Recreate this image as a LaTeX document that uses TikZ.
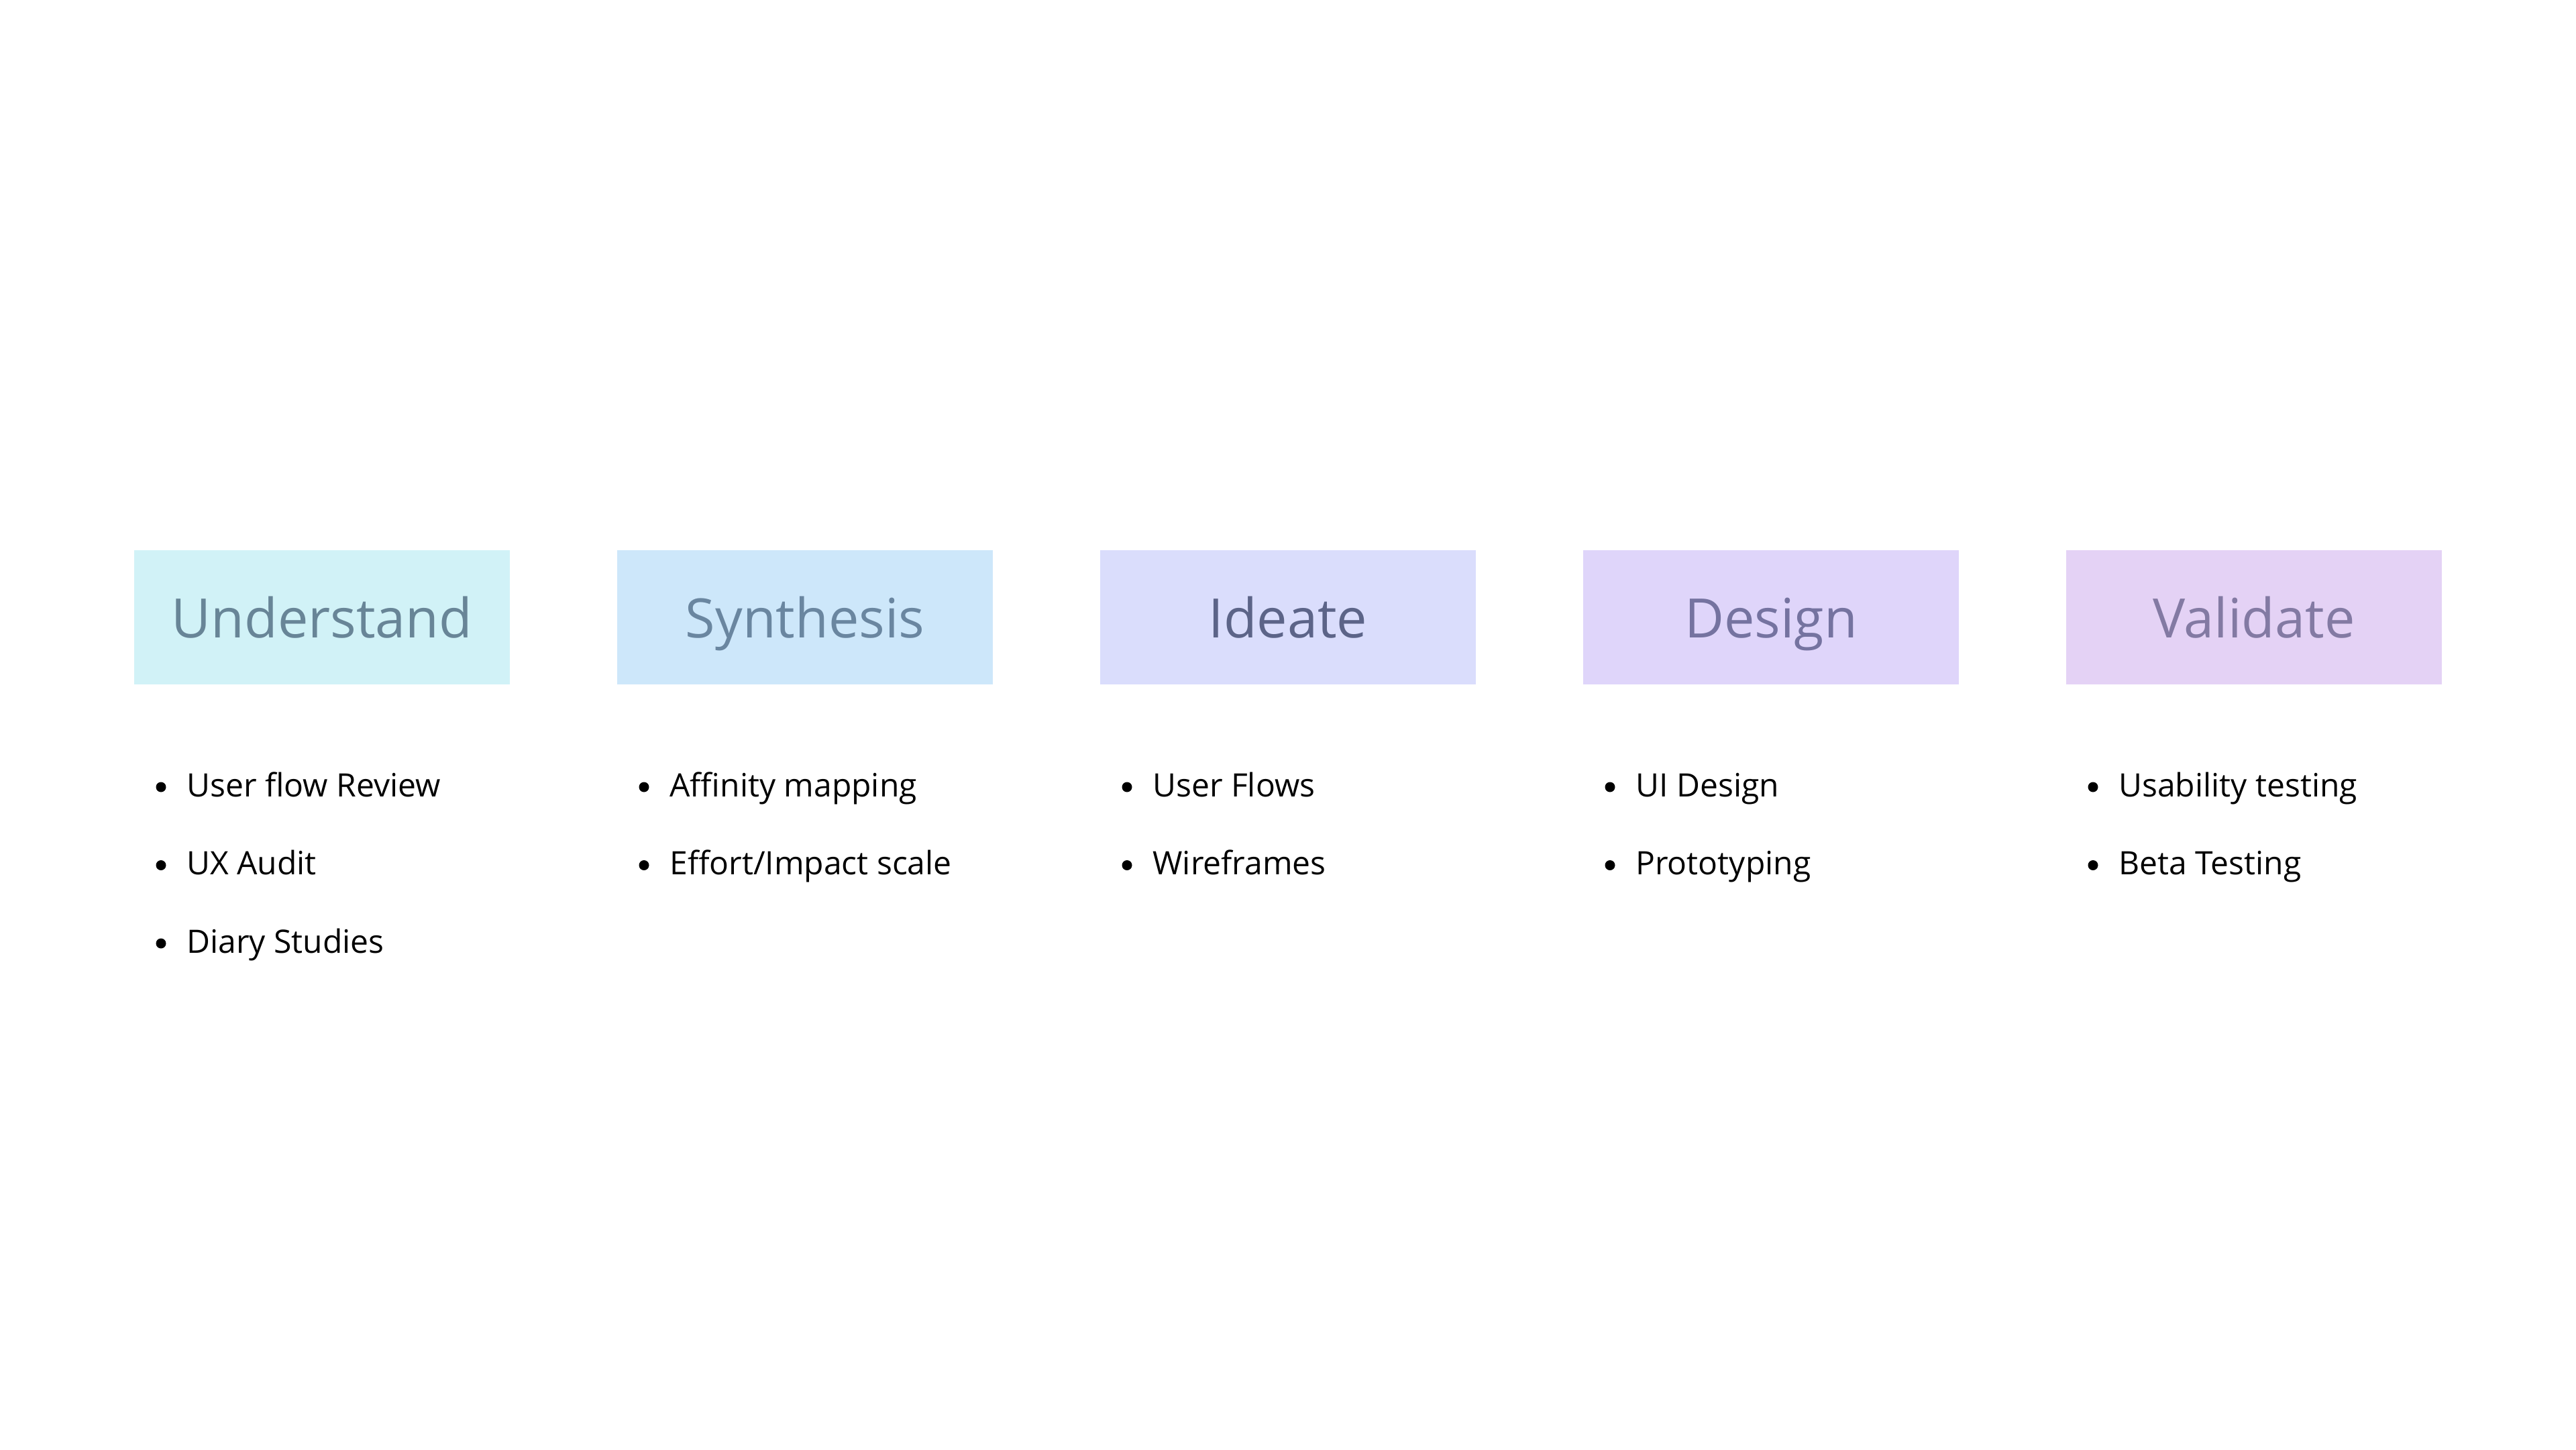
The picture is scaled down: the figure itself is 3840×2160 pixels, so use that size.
\documentclass[tikz,border=0pt]{standalone}
\usepackage{fontspec}
\setmainfont{Open Sans}
\definecolor{fillA}{HTML}{D1F2F7}\definecolor{textA}{HTML}{688597}
\definecolor{fillB}{HTML}{CDE7FA}\definecolor{textB}{HTML}{6A86A0}
\definecolor{fillC}{HTML}{DADDFC}\definecolor{textC}{HTML}{5C6488}
\definecolor{fillD}{HTML}{DFD5FA}\definecolor{textD}{HTML}{7573A0}
\definecolor{fillE}{HTML}{E4D2F5}\definecolor{textE}{HTML}{837AA3}
\tikzset{
  phasebox/.style={draw=none,minimum width=280pt,minimum height=100pt,inner sep=0pt,anchor=north west},
  phasetitle/.style={anchor=base,inner sep=0pt,font=\fontsize{40.5}{48}\selectfont},
  itemtext/.style={anchor=base west,inner sep=0pt,font=\fontsize{24}{29}\selectfont,text=black},
  bulletdot/.style={circle,fill=black,draw=none,minimum size=7.5pt,inner sep=0pt}
}
\begin{document}
\begin{tikzpicture}[x=0.5pt,y=-0.5pt]
\useasboundingbox[fill=white] (0,0) rectangle (3840,2160);
\foreach \k/\title/\fc/\tc in {0/Understand/fillA/textA,1/Synthesis/fillB/textB,2/Ideate/fillC/textC,3/Design/fillD/textD,4/Validate/fillE/textE}{
  \node[phasebox,fill=\fc] (box\k) at ({200+720*\k},820) {};
  \node[phasetitle,text=\tc] (title\k) at ({480+720*\k},950) {\title};
}
\foreach \k/\i/\txt in {0/0/{User flow Review},0/1/{UX Audit},0/2/{Diary Studies},
  1/0/{Affinity mapping},1/1/{Effort/Impact scale},
  2/0/{User Flows},2/1/{Wireframes},
  3/0/{UI Design},3/1/{Prototyping},
  4/0/{Usability testing},4/1/{Beta Testing}}{
  \node[bulletdot] (dot\k\i) at ({240+720*\k},{1173+116.5*\i}) {};
  \node[itemtext] (item\k\i) at ({278+720*\k},{1187+116.5*\i}) {\txt};
}
\end{tikzpicture}
\end{document}
